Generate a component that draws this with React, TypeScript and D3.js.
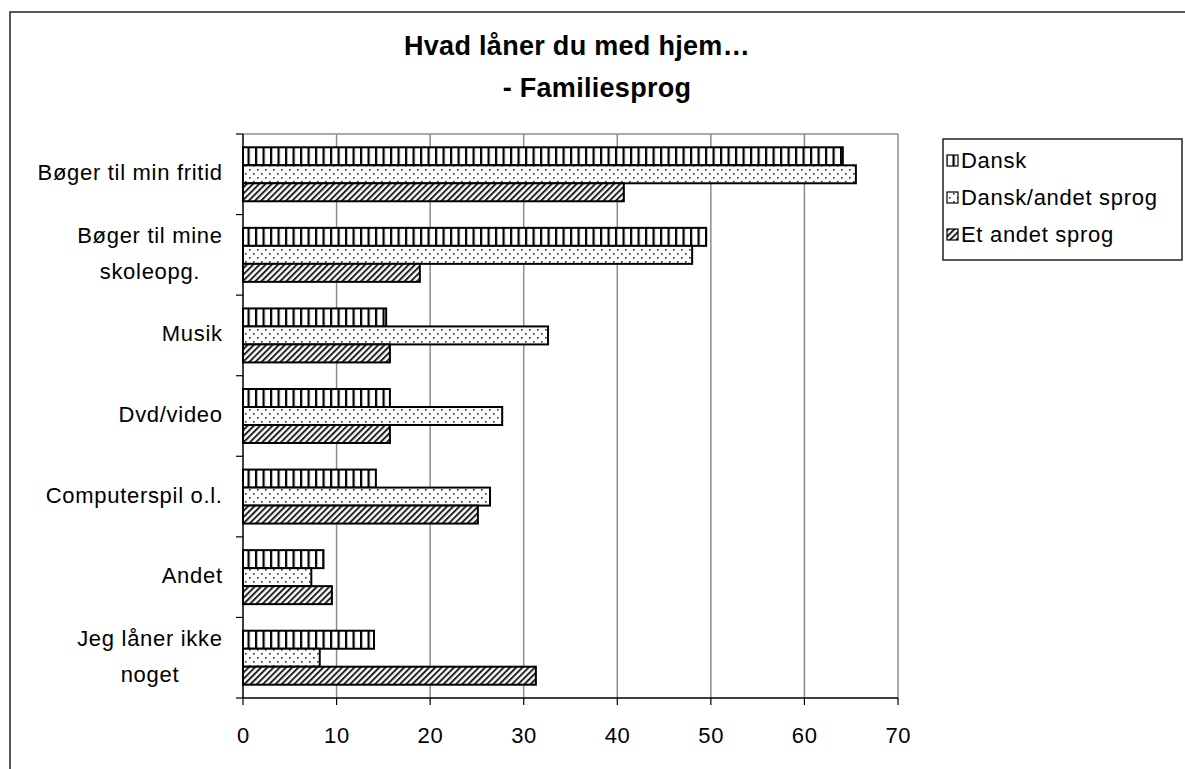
import React from "react";
import * as d3 from "d3";

const categories: string[][] = [
  ["Bøger til min fritid"],
  ["Bøger til mine", "skoleopg."],
  ["Musik"],
  ["Dvd/video"],
  ["Computerspil o.l."],
  ["Andet"],
  ["Jeg låner ikke", "noget"],
];
const seriesNames = ["Dansk", "Dansk/andet sprog", "Et andet sprog"];
const dansk = [64.1, 49.5, 15.3, 15.7, 14.2, 8.6, 14.0];
const danskAndet = [65.5, 48.0, 32.6, 27.7, 26.4, 7.3, 8.2];
const etAndet = [40.7, 18.9, 15.7, 15.7, 25.1, 9.5, 31.3];
const xTicks = [0, 10, 20, 30, 40, 50, 60, 70];
const titleLines = ["Hvad låner du med hjem…", "- Familiesprog"];

const FONT = '"Liberation Sans", Arial, sans-serif';
const FS = 22;
const LS = 0.7;

function measure(s: string): number {
  const c = document.createElement("canvas").getContext("2d");
  if (!c) return s.length * 10;
  c.font = `${FS}px ${FONT}`;
  return c.measureText(s).width + LS * s.length;
}

export default function App() {
  const W = 1185, H = 769;
  const left = 243, right = 898, top = 134, bottom = 698;
  const x = d3.scaleLinear().domain([0, 70]).range([left, right]);
  const y = d3.scaleBand<number>().domain(d3.range(categories.length)).range([top, bottom]).padding(0);
  const bw = y.bandwidth();
  const inner = d3.scaleBand<number>().domain([0, 1, 2]).range([bw * 0.165, bw * 0.835]).padding(0);
  const series = [dansk, danskAndet, etAndet];
  const fills = ["url(#pv)", "url(#pd)", "url(#pg)"];

  return (
    <svg width={W} height={H} style={{ position: "absolute", left: 0, top: 0, background: "#fff" }} fontFamily={FONT}>
      <defs>
        <pattern id="pv" patternUnits="userSpaceOnUse" width={7.5} height={10}>
          <rect width={7.5} height={10} fill="#fff" />
          <rect x={0} width={2.2} height={10} fill="#000" />
        </pattern>
        <pattern id="pd" patternUnits="userSpaceOnUse" width={8} height={8}>
          <rect width={8} height={8} fill="#fff" />
          <rect x={1} y={1} width={1.6} height={1.6} fill="#333" />
          <rect x={5} y={5} width={1.6} height={1.6} fill="#333" />
        </pattern>
        <pattern id="pg" patternUnits="userSpaceOnUse" width={4.4} height={10} patternTransform="rotate(45)">
          <rect width={4.4} height={10} fill="#fff" />
          <rect x={0} width={2} height={10} fill="#222" />
        </pattern>
      </defs>
      <rect x={10} y={12} width={1300} height={900} fill="#fff" stroke="#222" strokeWidth={1.5} />

      {/* title */}
      <text x={577} y={55} textAnchor="middle" fontSize={27} fontWeight="bold" letterSpacing={0.3}>{titleLines[0]}</text>
      <text x={597} y={97} textAnchor="middle" fontSize={27} fontWeight="bold" letterSpacing={0.3}>{titleLines[1]}</text>

      {/* gridlines */}
      {xTicks.slice(1).map((t) => (
        <line key={t} x1={x(t)} x2={x(t)} y1={top} y2={bottom} stroke="#8c8c8c" strokeWidth={1.5} />
      ))}
      <line x1={left} x2={right} y1={top} y2={top} stroke="#8c8c8c" strokeWidth={1.5} />

      {/* bars */}
      {categories.map((_, i) =>
        series.map((s, j) => (
          <rect
            key={`${i}-${j}`}
            x={x(0)}
            y={(y(i) as number) + (inner(j) as number)}
            width={x(s[i]) - x(0)}
            height={inner.bandwidth()}
            fill={fills[j]}
            stroke="#000"
            strokeWidth={2}
          />
        ))
      )}

      {/* axes */}
      <line x1={left} x2={left} y1={top} y2={bottom} stroke="#000" strokeWidth={1.5} />
      <line x1={left} x2={right} y1={bottom} y2={bottom} stroke="#000" strokeWidth={1.5} />
      {d3.range(categories.length + 1).map((i) => {
        const yy = top + i * bw;
        return <line key={i} x1={left - 7} x2={left} y1={yy} y2={yy} stroke="#000" strokeWidth={1.2} />;
      })}
      {xTicks.map((t) => (
        <g key={t}>
          <line x1={x(t)} x2={x(t)} y1={bottom} y2={bottom + 7} stroke="#000" strokeWidth={1.2} />
          <text x={x(t) + LS / 2} y={743} textAnchor="middle" fontSize={FS} letterSpacing={LS}>{t}</text>
        </g>
      ))}

      {/* category labels */}
      {categories.map((lines, i) => {
        const cy = (y(i) as number) + bw / 2;
        const maxW = Math.max(...lines.map(measure));
        const cx = 222 - maxW / 2 + LS;
        return lines.map((ln, k) => {
          const ly = cy + (k - (lines.length - 1) / 2) * 36 + 6;
          return (
            <text key={`${i}-${k}`} x={cx} y={ly} textAnchor="middle" fontSize={FS} letterSpacing={LS}>{ln}</text>
          );
        });
      })}

      {/* legend */}
      <rect x={943} y={139} width={239} height={121} fill="#fff" stroke="#222" strokeWidth={1.5} />
      {seriesNames.map((n, j) => {
        const cy = 161 + j * 37;
        return (
          <g key={n}>
            <rect x={947} y={cy - 6} width={11} height={11} fill={fills[j]} stroke="#000" strokeWidth={1.2} />
            <text x={961} y={cy + 7} fontSize={FS} letterSpacing={LS}>{n}</text>
          </g>
        );
      })}
    </svg>
  );
}
